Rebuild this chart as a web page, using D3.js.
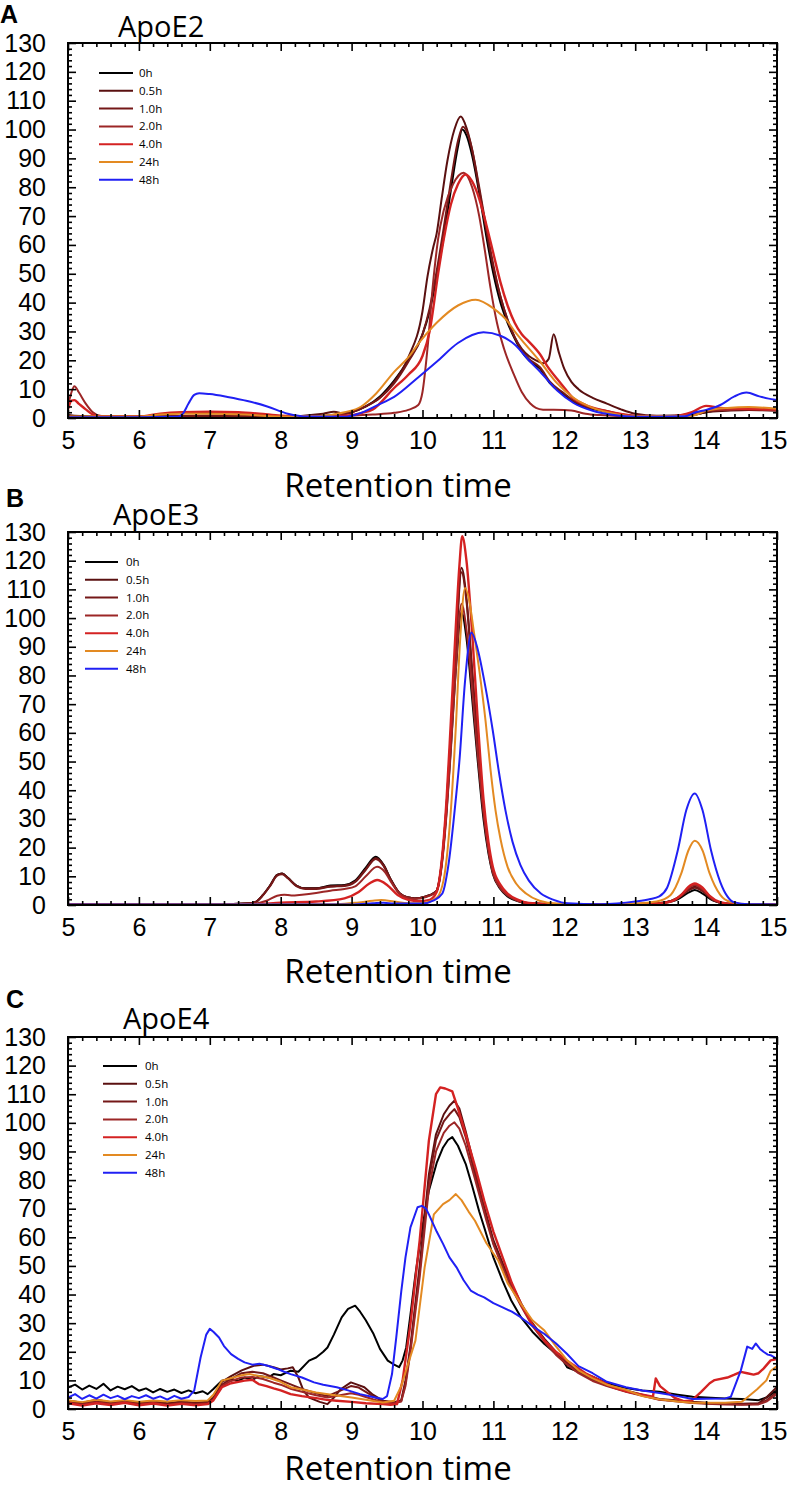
<!DOCTYPE html>
<html><head><meta charset="utf-8">
<script src="https://cdn.jsdelivr.net/npm/d3@7"></script>
<style>
html,body{margin:0;padding:0;background:#fff;}
svg{display:block;}
</style>
</head><body>
<svg id="chart" width="790" height="1490"></svg>
<script>
// ---------- data ----------
const seriesLabels = ["0h","0.5h","1.0h","2.0h","4.0h","24h","48h"];
const xTickLabels = [5,6,7,8,9,10,11,12,13,14,15];
const yTickLabels = [0,10,20,30,40,50,60,70,80,90,100,110,120,130];
const panelTitles = ["ApoE2","ApoE3","ApoE4"];
const panelLetters = ["A","B","C"];
const xTitle = "Retention time";

// Panel A: ApoE2  [retention time, signal]
const e2_0h = [[5,0.8],[5.3,0.4],[6,0.5],[7,0.6],[8,0.5],[8.6,0.6],[8.8,1],[9,2],[9.2,4],[9.4,7.5],[9.6,13],[9.8,20],[10,29],[10.1,37],[10.2,49],[10.3,63],[10.4,79],[10.5,94],[10.56,100],[10.62,98],[10.7,91],[10.8,78],[10.9,63],[11,50],[11.1,40],[11.2,33],[11.3,27.5],[11.4,23],[11.5,20],[11.66,17],[11.8,12],[12,8],[12.13,5.6],[12.3,3.8],[12.6,2.2],[12.8,1.2],[13,0.6],[13.5,0.5],[13.8,1],[14,2],[14.3,3],[14.6,3.2],[15,2.8]];
const e2_05h = [[5,1],[5.3,0.5],[6,0.5],[7,0.8],[8,0.5],[8.6,1.5],[8.75,2.2],[8.9,1.5],[9,2],[9.2,4],[9.4,7],[9.6,12.5],[9.8,21],[10,37],[10.07,49],[10.15,59],[10.2,64],[10.27,76],[10.35,89],[10.45,100],[10.54,104.5],[10.6,102],[10.7,93],[10.8,79],[10.9,65],[11,52],[11.1,42],[11.2,34],[11.3,28],[11.4,24],[11.5,21.5],[11.6,20],[11.7,19],[11.78,20.5],[11.85,29],[11.92,23],[12,17],[12.1,12.5],[12.2,10],[12.4,7],[12.6,5],[12.8,3],[13,1.5],[13.3,0.8],[13.8,1],[14,2],[14.3,2.5],[14.6,2.8],[15,2.5]];
const e2_1h = [[5,0.8],[5.3,0.4],[6,0.5],[7,0.8],[8,0.5],[8.6,0.8],[8.8,1.2],[9,2],[9.2,4],[9.4,7],[9.6,12],[9.8,19.5],[10,29],[10.1,38],[10.2,51],[10.3,66],[10.4,82],[10.5,96],[10.57,101],[10.63,99],[10.7,93],[10.8,80],[10.9,66],[11,53],[11.1,42],[11.2,34],[11.3,28],[11.4,23.5],[11.5,20.5],[11.66,17.5],[11.8,12.5],[12,8.5],[12.13,6],[12.3,4],[12.6,2.4],[12.8,1.3],[13,0.7],[13.5,0.5],[13.8,1],[14,2.3],[14.3,3.2],[14.6,3.5],[15,3]];
const e2_2h = [[5,4],[5.05,9],[5.09,11],[5.15,9],[5.25,5],[5.35,2],[5.45,0.8],[5.6,0.5],[6,0.5],[6.3,1.2],[6.6,1.8],[7,2],[7.4,1.8],[7.7,1.2],[8,0.6],[8.5,0.5],[9,0.8],[9.3,1.2],[9.6,1.8],[9.8,2.8],[9.94,4.5],[10,9],[10.07,24],[10.15,47],[10.22,62],[10.3,72],[10.43,81],[10.58,85],[10.7,80],[10.8,70],[10.88,58],[10.96,45],[11.05,33],[11.15,24],[11.29,15],[11.4,9],[11.52,5],[11.6,3.5],[11.7,2.9],[12,2.8],[12.1,2.6],[12.3,1.5],[12.5,1],[13,0.5],[13.5,0.6],[13.8,1.5],[14,2.5],[14.3,2.8],[14.6,3],[15,2.6]];
const e2_4h = [[5,3],[5.05,6],[5.09,6.2],[5.15,5],[5.25,3],[5.35,1.2],[5.45,0.5],[6,0.5],[6.3,1.5],[6.6,2],[7,2.2],[7.4,2],[7.7,1.5],[8,0.8],[8.5,0.5],[9,1],[9.13,1.7],[9.3,3],[9.6,10.4],[9.8,15],[10,21.5],[10.1,30],[10.22,50],[10.3,62],[10.4,74],[10.5,81],[10.61,84.4],[10.7,82],[10.8,76],[10.9,67],[11,57],[11.1,47],[11.2,39],[11.3,33],[11.4,29],[11.5,26.5],[11.66,22],[11.76,18],[11.9,13.5],[12,10.5],[12.13,6.8],[12.3,4.5],[12.6,2.4],[12.8,1.4],[13,0.7],[13.5,0.6],[13.8,2],[14,4.2],[14.2,3.5],[14.5,3.2],[15,3]];
const e2_24h = [[5,0.5],[6,0.5],[6.3,1.2],[6.6,1.5],[7,1.5],[7.5,1.2],[8,0.5],[8.5,0.6],[8.9,2],[9.13,3.9],[9.35,8.6],[9.6,16],[9.8,21],[9.95,26],[10.2,33],[10.5,39],[10.75,41],[11,38],[11.2,33.5],[11.3,30],[11.4,27],[11.66,19.5],[11.9,12],[12.13,7],[12.4,3.5],[12.7,1.5],[13,0.6],[13.8,0.8],[14,2.5],[14.3,3.5],[14.6,3.8],[15,3.2]];
const e2_48h = [[5,0.3],[6,0.3],[6.55,0.4],[6.62,1.5],[6.7,5],[6.78,8],[6.85,8.6],[7,8.3],[7.25,7.3],[7.53,5.9],[7.81,4],[8.1,1.5],[8.38,0.5],[8.9,0.4],[9.1,1.5],[9.36,4.4],[9.6,7.3],[9.95,14.3],[10.2,19.5],[10.5,26],[10.86,29.7],[11.1,28.5],[11.3,25.5],[11.5,20],[11.66,16],[11.9,9.5],[12.13,5.2],[12.4,2.5],[12.7,1],[13,0.4],[13.7,0.6],[13.85,2],[14,2.8],[14.2,4.5],[14.4,7.5],[14.57,8.8],[14.75,7.5],[14.95,6.4],[15,6.3]];

// Panel B: ApoE3
const e3_0h = [[5,0.2],[7,0.2],[7.5,0.5],[7.64,1],[7.75,3.5],[7.85,6.8],[7.95,10.5],[8.02,11],[8.1,9.5],[8.22,6.8],[8.35,5.8],[8.5,5.8],[8.7,6.8],[8.9,7],[9.05,8.5],[9.2,13],[9.34,16.8],[9.45,14],[9.55,9],[9.68,4],[9.8,2.6],[9.89,2.3],[10.05,3],[10.15,4],[10.2,5],[10.26,12],[10.34,33],[10.4,55],[10.47,82],[10.55,102],[10.62,93],[10.7,72],[10.78,50],[10.86,30],[10.93,18],[10.99,11],[11.1,5.5],[11.2,3],[11.35,1.3],[11.5,0.5],[12,0.2],[13,0.3],[13.4,0.8],[13.6,2],[13.75,4.3],[13.84,5.2],[13.95,4],[14.1,1.5],[14.3,0.4],[15,0.2]];
const e3_05h = [[5,0.2],[7,0.2],[7.5,0.5],[7.64,1],[7.75,3.5],[7.85,6.8],[7.95,10.5],[8.02,11],[8.1,9.5],[8.22,6.8],[8.35,5.8],[8.5,5.8],[8.7,6.5],[8.9,6.8],[9.05,8.2],[9.2,12.5],[9.34,16.4],[9.45,14],[9.55,9],[9.68,4],[9.8,2.6],[9.89,2.3],[10.05,3],[10.15,4],[10.2,5],[10.26,12.5],[10.34,35],[10.4,60],[10.47,90],[10.55,117.5],[10.62,107],[10.7,82],[10.78,57],[10.86,34],[10.93,20],[10.99,12],[11.1,6],[11.2,3.5],[11.35,1.5],[11.5,0.6],[12,0.2],[13,0.3],[13.4,0.8],[13.6,2.5],[13.75,5.3],[13.84,6.4],[13.95,5],[14.1,1.8],[14.3,0.4],[15,0.2]];
const e3_1h = [[5,0.2],[7,0.2],[7.5,0.5],[7.64,1],[7.75,3.4],[7.85,6.6],[7.95,10.2],[8.02,10.7],[8.1,9.3],[8.22,6.6],[8.35,5.6],[8.5,5.6],[8.7,6.4],[8.9,6.6],[9.05,8],[9.2,12.3],[9.34,16],[9.45,13.6],[9.55,8.8],[9.68,4],[9.8,2.6],[9.89,2.3],[10.05,3],[10.15,4],[10.2,5],[10.26,12.5],[10.34,35],[10.4,59],[10.47,89],[10.55,116],[10.62,106],[10.7,81],[10.78,56],[10.86,34],[10.93,20],[10.99,12],[11.1,6],[11.2,3.5],[11.35,1.5],[11.5,0.6],[12,0.2],[13,0.3],[13.4,0.8],[13.6,2.4],[13.75,5],[13.84,6],[13.95,4.8],[14.1,1.7],[14.3,0.4],[15,0.2]];
const e3_2h = [[5,0.2],[7,0.2],[7.6,0.4],[7.8,1.5],[7.95,3.2],[8.05,3.6],[8.15,3.3],[8.3,3.6],[8.5,4.2],[8.7,5],[8.9,5.6],[9.05,6.5],[9.2,10],[9.36,13.3],[9.47,11.5],[9.57,7.5],[9.68,3.8],[9.8,2.4],[9.89,2.1],[10.05,2.8],[10.15,3.8],[10.2,4.8],[10.26,11.5],[10.34,32],[10.4,54],[10.47,82],[10.55,105],[10.62,96],[10.7,75],[10.78,52],[10.86,32],[10.93,19],[10.99,11.5],[11.1,5.8],[11.2,3.3],[11.35,1.4],[11.5,0.5],[12,0.2],[13,0.3],[13.4,0.8],[13.6,2.6],[13.75,5.8],[13.84,7],[13.95,5.5],[14.1,2],[14.3,0.4],[15,0.2]];
const e3_4h = [[5,0.2],[7.6,0.3],[8,0.8],[8.5,1.2],[8.9,2.3],[9.1,4.5],[9.25,7.5],[9.36,8.7],[9.5,7],[9.65,3.5],[9.8,1.8],[9.95,1.3],[10.1,1.8],[10.2,4.5],[10.26,13],[10.34,37],[10.4,64],[10.47,97],[10.52,118],[10.56,128.5],[10.62,120],[10.7,95],[10.78,64],[10.86,37],[10.93,22],[10.99,13.5],[11.1,7],[11.2,4],[11.35,1.8],[11.5,0.7],[11.8,0.3],[13,0.3],[13.3,0.5],[13.5,1.2],[13.65,3.5],[13.75,6.3],[13.84,7.5],[13.95,6],[14.05,3.2],[14.2,1],[14.4,0.3],[15,0.2]];
const e3_24h = [[5,0.2],[8.8,0.3],[9.1,0.9],[9.3,1.5],[9.42,1.7],[9.6,1.2],[9.8,0.6],[10,0.7],[10.2,2.5],[10.3,9],[10.4,33],[10.47,62],[10.53,92],[10.6,110.5],[10.66,106],[10.72,96],[10.8,82],[10.89,64],[10.96,47],[11.03,33],[11.1,23],[11.2,13.3],[11.32,7.5],[11.46,4],[11.65,1.5],[11.9,0.5],[12.5,0.2],[13,0.5],[13.3,1.2],[13.5,3.5],[13.65,11],[13.75,19],[13.84,22.4],[13.95,19],[14.05,11],[14.2,3.5],[14.35,1],[14.6,0.3],[15,0.2]];
const e3_48h = [[5,0.2],[9,0.2],[9.3,0.6],[9.45,0.8],[9.6,0.5],[10,0.5],[10.15,1.5],[10.28,4],[10.36,13],[10.47,37],[10.52,50],[10.6,78],[10.69,95],[10.78,89],[10.88,77],[10.99,61],[11.08,46],[11.17,33],[11.27,22],[11.38,14],[11.5,8.5],[11.67,4],[11.85,1.8],[12.05,0.6],[12.5,0.3],[13,1.2],[13.2,2],[13.34,3],[13.45,6],[13.6,19],[13.72,33],[13.84,38.9],[13.95,33],[14.07,19],[14.2,8],[14.3,3],[14.39,1],[14.6,0.3],[15,0.2]];

// Panel C: ApoE4
const e4_0h = [[5,7.5],[5.1,8.5],[5.2,6.8],[5.3,8.2],[5.4,7],[5.5,8.8],[5.6,6.5],[5.7,7.8],[5.8,6.9],[5.9,8],[6,6.4],[6.1,7.2],[6.2,5.8],[6.3,7],[6.4,6],[6.5,6.8],[6.6,5.6],[6.7,6.5],[6.8,5.5],[6.9,6.2],[6.97,5.2],[7.05,7],[7.17,9.9],[7.3,10.5],[7.4,9.8],[7.49,11],[7.6,10.2],[7.7,11.5],[7.82,11],[7.9,12.2],[8,11.8],[8.14,13.4],[8.25,13],[8.4,16.9],[8.5,18],[8.6,20],[8.66,21.5],[8.75,26],[8.86,32],[8.95,35],[9.05,36.1],[9.12,34],[9.2,31],[9.31,26.2],[9.4,21],[9.51,16.9],[9.6,15.5],[9.67,14.6],[9.72,17],[9.77,21.5],[9.83,33],[9.9,47],[10,64],[10.09,76.3],[10.2,86],[10.29,91.4],[10.36,94],[10.42,95],[10.5,92],[10.61,85.6],[10.7,78],[10.8,69],[10.87,63.5],[11,53],[11.13,44.8],[11.25,38],[11.39,32],[11.55,27],[11.72,22.7],[11.85,20],[11.93,19],[12.04,14.6],[12.2,13],[12.4,11.3],[12.6,9],[12.87,7.3],[13.1,6.5],[13.34,6],[13.6,5],[13.81,4.3],[14,4],[14.27,3.7],[14.5,3.5],[14.74,3.1],[14.85,4],[15,6.5]];
const e4_05h = [[5,3],[5.2,2.2],[5.4,3.2],[5.6,2.4],[5.8,3],[6,2.2],[6.2,2.8],[6.4,2],[6.6,2.6],[6.8,2.2],[6.97,2.5],[7.05,4],[7.17,9.5],[7.3,11.5],[7.45,13.5],[7.62,15.1],[7.75,15.5],[7.9,14.6],[8,13.8],[8.1,14.2],[8.17,14.6],[8.25,11],[8.32,6.5],[8.4,4],[8.55,2.5],[8.66,1.7],[8.75,4],[8.85,7],[8.99,9.3],[9.08,8.5],[9.18,7.6],[9.3,5],[9.44,2.9],[9.6,2.4],[9.7,3],[9.76,10],[9.83,22],[9.96,50],[10.09,82],[10.19,96],[10.3,103],[10.38,106],[10.45,107.7],[10.52,105],[10.61,97],[10.7,88],[10.8,77],[10.9,68],[11,59],[11.13,51],[11.25,44],[11.39,37],[11.55,30],[11.72,24.5],[11.88,20],[12.04,16.5],[12.2,13.5],[12.4,10.5],[12.6,8.5],[12.87,6.5],[13.1,5],[13.34,3.5],[13.6,3],[13.81,2.5],[14,2.2],[14.27,2],[14.5,1.8],[14.74,2],[14.85,4],[15,7.7]];
const e4_1h = [[5,2.5],[5.2,1.8],[5.4,2.8],[5.6,2],[5.8,2.6],[6,1.8],[6.2,2.4],[6.4,1.7],[6.6,2.3],[6.8,1.9],[6.97,2.2],[7.05,3.5],[7.17,8.5],[7.3,10.5],[7.45,12.5],[7.6,13],[7.75,12.5],[7.9,11],[8,10],[8.15,8.5],[8.3,7],[8.5,5.5],[8.66,4.5],[8.8,6],[8.99,8],[9.1,7.5],[9.2,6],[9.3,4.5],[9.44,2.7],[9.6,2.2],[9.7,2.8],[9.76,9],[9.83,21],[9.96,48],[10.09,80],[10.19,94],[10.3,100.5],[10.38,103],[10.45,104.8],[10.52,102],[10.61,95],[10.7,86],[10.8,76],[10.9,67],[11,58],[11.13,50],[11.25,43],[11.39,36.5],[11.55,29.5],[11.72,24],[11.88,19.5],[12.04,16],[12.2,13],[12.4,10.2],[12.6,8.2],[12.87,6.2],[13.1,4.8],[13.34,3.3],[13.6,2.8],[13.81,2.3],[14,2],[14.27,1.8],[14.5,1.6],[14.74,1.8],[14.85,3],[15,6]];
const e4_2h = [[5,2.2],[5.2,1.5],[5.4,2.4],[5.6,1.7],[5.8,2.3],[6,1.5],[6.2,2.1],[6.4,1.4],[6.6,2],[6.8,1.6],[6.97,1.9],[7.05,3.2],[7.17,8],[7.3,9.8],[7.45,11],[7.6,11.2],[7.75,10.5],[7.9,9.2],[8,8.5],[8.15,7],[8.3,6],[8.5,4.8],[8.66,4],[8.8,4.6],[8.99,5.5],[9.1,5],[9.2,4.2],[9.3,3.4],[9.44,2.4],[9.6,2],[9.7,2.6],[9.76,8],[9.83,20],[9.96,46],[10.09,77],[10.19,90],[10.3,96.5],[10.38,99],[10.45,100.2],[10.52,98],[10.61,92],[10.7,84],[10.8,75],[10.9,66],[11,57.5],[11.13,49.5],[11.25,42.5],[11.39,36],[11.55,29],[11.72,23.5],[11.88,19],[12.04,15.5],[12.2,12.5],[12.4,9.8],[12.6,8],[12.87,6],[13.1,4.6],[13.34,3.2],[13.6,2.6],[13.81,2.1],[14,1.8],[14.27,1.6],[14.5,1.5],[14.74,1.6],[14.85,2.6],[15,5.2]];
const e4_4h = [[5,2],[5.2,1.2],[5.4,2],[5.6,1.4],[5.8,2.2],[6,1.3],[6.2,1.9],[6.4,1.2],[6.6,1.8],[6.8,1.3],[6.97,1.7],[7.05,3],[7.17,7.6],[7.3,9],[7.49,9.9],[7.6,10.2],[7.69,8.7],[7.8,8],[7.9,7.2],[8,6.5],[8.14,5.2],[8.3,4.5],[8.5,3.8],[8.65,3.2],[8.79,2.9],[9,2.5],[9.2,2],[9.44,1.7],[9.55,1.5],[9.64,1.7],[9.72,10],[9.83,29.7],[9.96,58.8],[10.09,93.8],[10.19,110],[10.25,112.4],[10.32,112],[10.42,111],[10.5,105],[10.61,96],[10.75,84],[10.87,72.8],[11,62],[11.13,53],[11.26,44],[11.39,36.7],[11.55,29.5],[11.72,23.9],[11.88,20],[12.04,16.9],[12.3,12.5],[12.5,10],[12.69,7.6],[12.9,6],[13.1,5],[13.25,4.3],[13.29,10.7],[13.35,8],[13.45,6],[13.55,4],[13.69,2.7],[13.8,3],[13.93,6],[14.05,9],[14.12,10.1],[14.3,11],[14.4,12],[14.49,13],[14.58,12.5],[14.67,12],[14.74,12.5],[14.81,14.1],[14.91,17],[15,17.5]];
const e4_24h = [[5,3],[5.2,2.4],[5.4,3.2],[5.6,2.6],[5.8,3.1],[6,2.5],[6.2,3],[6.4,2.6],[6.6,3.1],[6.8,2.8],[6.97,3],[7.05,5],[7.17,9.9],[7.3,10.8],[7.45,11.8],[7.56,12.2],[7.7,11.5],[7.82,11],[8,9.5],[8.14,7.6],[8.3,6.8],[8.5,5.8],[8.79,4.7],[9,4],[9.2,3.2],[9.44,2.3],[9.6,2.9],[9.7,8],[9.8,16],[9.9,23.9],[10.03,49.5],[10.16,68],[10.29,71.6],[10.38,73],[10.47,75.1],[10.55,73],[10.65,69],[10.74,65.8],[10.9,58],[11.07,51.8],[11.2,44],[11.39,36.7],[11.55,31],[11.72,27.4],[11.88,22],[12.04,17],[12.2,13.5],[12.4,10.7],[12.6,8.5],[12.87,6.7],[13.1,4.5],[13.34,3.4],[13.6,2.6],[13.81,2.2],[14,2.2],[14.27,2.2],[14.5,2.5],[14.55,3.4],[14.72,6.9],[14.85,10],[14.91,13.3],[15,15]];
const e4_48h = [[5,4],[5.1,5.2],[5.2,3.5],[5.3,4.8],[5.4,3.6],[5.5,5],[5.6,3.8],[5.7,4.6],[5.8,3.4],[5.9,4.5],[6,3.8],[6.1,4.8],[6.2,3.6],[6.3,4.4],[6.4,3.3],[6.5,4.6],[6.6,3.6],[6.7,4.2],[6.78,6.4],[6.87,18],[6.95,26],[7,28],[7.05,27],[7.13,25],[7.2,22],[7.3,19.2],[7.4,17.5],[7.49,16.3],[7.6,15.5],[7.7,15.8],[7.82,15.1],[7.95,14],[8.05,13],[8.14,12.2],[8.3,11],[8.47,9.3],[8.6,8.5],[8.79,7.6],[8.95,6.5],[9.12,5.2],[9.3,4.2],[9.44,3.5],[9.5,4.5],[9.57,12.2],[9.63,25],[9.7,41],[9.76,53],[9.83,63.5],[9.93,70.5],[9.99,71],[10.05,70],[10.09,68],[10.2,62],[10.29,57.7],[10.38,53],[10.48,49.5],[10.58,45],[10.68,41.4],[10.78,40],[10.87,39],[11,37],[11.13,35.5],[11.26,34],[11.39,32],[11.55,29],[11.72,26.2],[11.88,23],[12.04,19.2],[12.2,15],[12.4,12.5],[12.6,9.5],[12.87,7.6],[13.1,6.5],[13.34,5.6],[13.6,4.5],[13.81,3.5],[14,3.6],[14.27,3.7],[14.35,4.3],[14.49,13.5],[14.58,21.8],[14.65,21],[14.7,22.9],[14.76,21],[14.81,20],[14.87,19],[14.91,18.8],[15,17.5]];

// ---------- styles / layout ----------
const seriesColors = ["#000000","#5a1010","#751818","#9c2626","#d42222","#e38a22","#2020f4"];
const seriesWidths = [2,2,2,2,2.4,2,2];

const panels = [
  {series:[e2_0h,e2_05h,e2_1h,e2_2h,e2_4h,e2_24h,e2_48h], top:43, bottom:418,
   letterX:0, letterY:23, titleX:118, titleY:37, xTitleY:497, leg:{x1:99,x2:133,tx:139,y0:73}, curve:d3.curveMonotoneX},
  {series:[e3_0h,e3_05h,e3_1h,e3_2h,e3_4h,e3_24h,e3_48h], top:532, bottom:905,
   letterX:6, letterY:507, titleX:113, titleY:525, xTitleY:983, leg:{x1:85,x2:118,tx:126,y0:562}, curve:d3.curveMonotoneX},
  {series:[e4_0h,e4_05h,e4_1h,e4_2h,e4_4h,e4_24h,e4_48h], top:1037, bottom:1409,
   letterX:6, letterY:1008, titleX:123, titleY:1029, xTitleY:1480, leg:{x1:103,x2:137,tx:145,y0:1066}, curve:d3.curveLinear}
];

const svg = d3.select("#chart");
const x = d3.scaleLinear().domain([5,15]).range([68,777]);
const xMinor = d3.range(5, 15.0001, 0.2).filter(v => Math.abs(v - Math.round(v)) > 1e-6);
const yMinor = d3.range(0, 130.0001, 2).filter(v => v % 10 !== 0);
const FONT = "'Open Sans', 'Noto Sans', sans-serif";
const TICKFONT = "'Liberation Sans', Arial, sans-serif";

panels.forEach((p, pi) => {
  const y = d3.scaleLinear().domain([0,130]).range([p.bottom, p.top]);
  const g = svg.append("g");
  const clipId = "clip" + pi;
  svg.append("clipPath").attr("id", clipId).append("rect")
    .attr("x", x(5)).attr("y", p.top).attr("width", x(15)-x(5)).attr("height", p.bottom-p.top);

  // curves
  const line = d3.line().x(d => x(d[0])).y(d => y(d[1])).curve(p.curve);
  const cg = g.append("g").attr("clip-path", `url(#${clipId})`);
  p.series.forEach((s, i) => {
    cg.append("path").datum(s).attr("d", line)
      .attr("fill","none").attr("stroke", seriesColors[i])
      .attr("stroke-width", seriesWidths[i]).attr("stroke-linejoin","round");
  });

  const styleAxis = sel => {
    sel.select(".domain").remove();
    sel.selectAll(".tick line").attr("stroke","#000").attr("stroke-width",1.6);
    sel.selectAll("text").attr("font-family",TICKFONT).attr("font-size",25).attr("fill","#000");
  };
  // bottom
  const bx = g.append("g").attr("transform",`translate(0,${p.bottom})`)
    .call(d3.axisBottom(x).tickValues(xTickLabels).tickSize(-8).tickPadding(13).tickFormat(d3.format("d"))).call(styleAxis);
  bx.selectAll(".tick text").filter(d => d === 15).attr("dx", -4);
  g.append("g").attr("transform",`translate(0,${p.bottom})`)
    .call(d3.axisBottom(x).tickValues(xMinor).tickSize(-4).tickFormat("")).call(styleAxis);
  // top
  g.append("g").attr("transform",`translate(0,${p.top})`)
    .call(d3.axisTop(x).tickValues(xTickLabels).tickSize(-8).tickFormat("")).call(styleAxis);
  g.append("g").attr("transform",`translate(0,${p.top})`)
    .call(d3.axisTop(x).tickValues(xMinor).tickSize(-4).tickFormat("")).call(styleAxis);
  // left
  g.append("g").attr("transform",`translate(${x(5)},0)`)
    .call(d3.axisLeft(y).tickValues(yTickLabels).tickSize(-8).tickPadding(22).tickFormat(d3.format("d"))).call(styleAxis);
  g.append("g").attr("transform",`translate(${x(5)},0)`)
    .call(d3.axisLeft(y).tickValues(yMinor).tickSize(-4).tickFormat("")).call(styleAxis);
  // right
  g.append("g").attr("transform",`translate(${x(15)},0)`)
    .call(d3.axisRight(y).tickValues(yTickLabels).tickSize(-8).tickFormat("")).call(styleAxis);
  g.append("g").attr("transform",`translate(${x(15)},0)`)
    .call(d3.axisRight(y).tickValues(yMinor).tickSize(-4).tickFormat("")).call(styleAxis);

  // frame
  g.append("rect").attr("x", x(5)).attr("y", p.top).attr("width", x(15)-x(5)).attr("height", p.bottom-p.top)
    .attr("fill","none").attr("stroke","#000").attr("stroke-width",2);

  // titles
  g.append("text").attr("x", p.letterX).attr("y", p.letterY).text(panelLetters[pi])
    .attr("font-family","'Liberation Sans', Arial, sans-serif").attr("font-weight","bold").attr("font-size",25);
  g.append("text").attr("x", p.titleX).attr("y", p.titleY).text(panelTitles[pi])
    .attr("font-family",FONT).attr("font-size",29);
  g.append("text").attr("x", 398).attr("y", p.xTitleY).attr("text-anchor","middle")
    .text(xTitle).attr("font-family",FONT).attr("font-size",33);

  // legend
  const lg = g.append("g");
  seriesLabels.forEach((lab, i) => {
    const yy = p.leg.y0 + i * 17.8;
    lg.append("line").attr("x1", p.leg.x1).attr("x2", p.leg.x2).attr("y1", yy).attr("y2", yy)
      .attr("stroke", seriesColors[i]).attr("stroke-width", 2);
    lg.append("text").attr("x", p.leg.tx).attr("y", yy).attr("dy","0.35em").text(lab)
      .attr("font-family",FONT).attr("font-size",11.5).attr("fill","#000");
  });
});
</script>
</body></html>
